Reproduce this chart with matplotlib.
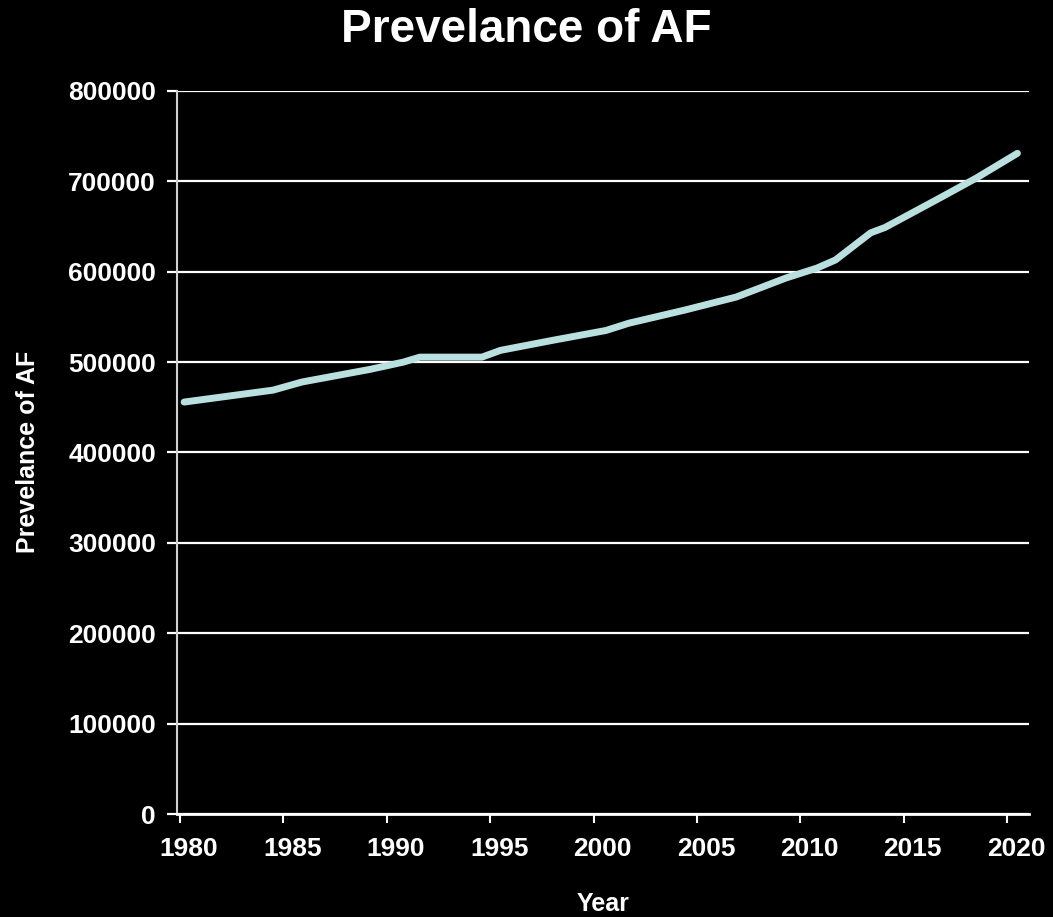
import matplotlib
matplotlib.use("Agg")
import matplotlib.pyplot as plt
import matplotlib.transforms as mtransforms

# valeurs (annees, prevalence)
years = [1980.2, 1984.5, 1985.9, 1989.2, 1990.8, 1991.6, 1994.6, 1995.5, 1998.0,
         2000.6, 2001.7, 2004.4, 2006.9, 2009.3, 2010.8, 2011.7, 2013.4, 2014.1,
         2016.7, 2018.5, 2020.5]
prevalence = [455800, 469000, 478000, 492000, 500000, 505500, 505500, 513000, 524000,
              535000, 543000, 557500, 572000, 593000, 604000, 613000, 643000, 649000,
              681000, 703500, 731000]
x_ticks = [1980, 1985, 1990, 1995, 2000, 2005, 2010, 2015, 2020]
y_ticks = [0, 100000, 200000, 300000, 400000, 500000, 600000, 700000, 800000]

plt.rcParams['font.family'] = ['Liberation Sans', 'DejaVu Sans']
plt.rcParams['font.weight'] = 'bold'

fig = plt.figure(figsize=(10.53, 9.17), dpi=100, facecolor='black')
ax = fig.add_axes([0.168, 0.1123, 0.809, 0.7885], facecolor='black')

ax.plot(years, prevalence, color='#b9dfdf', lw=5, solid_capstyle='round',
        solid_joinstyle='round', zorder=3)

ax.set_xlim(1979.85, 2021.05)
ax.set_ylim(0, 800000)
ax.set_xticks(x_ticks)
ax.set_xticklabels([str(t) for t in x_ticks])
ax.set_yticks(y_ticks)
ax.set_yticklabels([str(t) for t in y_ticks])

ax.grid(axis='y', color='white', lw=1.6)
ax.set_axisbelow(True)
for s in ['top', 'right']:
    ax.spines[s].set_visible(False)
ax.spines['left'].set_color('#d0d0d0')
ax.spines['left'].set_linewidth(1.5)
ax.spines['bottom'].set_color('white')
ax.spines['bottom'].set_linewidth(2)

ax.tick_params(axis='y', colors='white', length=7, width=1.6, pad=8, labelsize=19)
ax.tick_params(axis='x', colors='white', length=6.5, width=1.5, pad=10, labelsize=19)

# petit decalage des etiquettes x vers la droite
offset = mtransforms.ScaledTranslation(0.09, 0, fig.dpi_scale_trans)
for lab in ax.get_xticklabels():
    lab.set_transform(lab.get_transform() + offset)

fig.text(0.5, 0.967, "Prevelance of AF", color='white', fontsize=33,
         fontweight='bold', ha='center', va='center')
fig.text(0.573, 0.014, "Year", color='white', fontsize=18, fontweight='bold',
         ha='center', va='center')
fig.text(0.027, 0.507, "Prevelance of AF", color='white', fontsize=18,
         fontweight='bold', ha='center', va='center', rotation=90)

fig.savefig("out.png", dpi=100, facecolor='black')
